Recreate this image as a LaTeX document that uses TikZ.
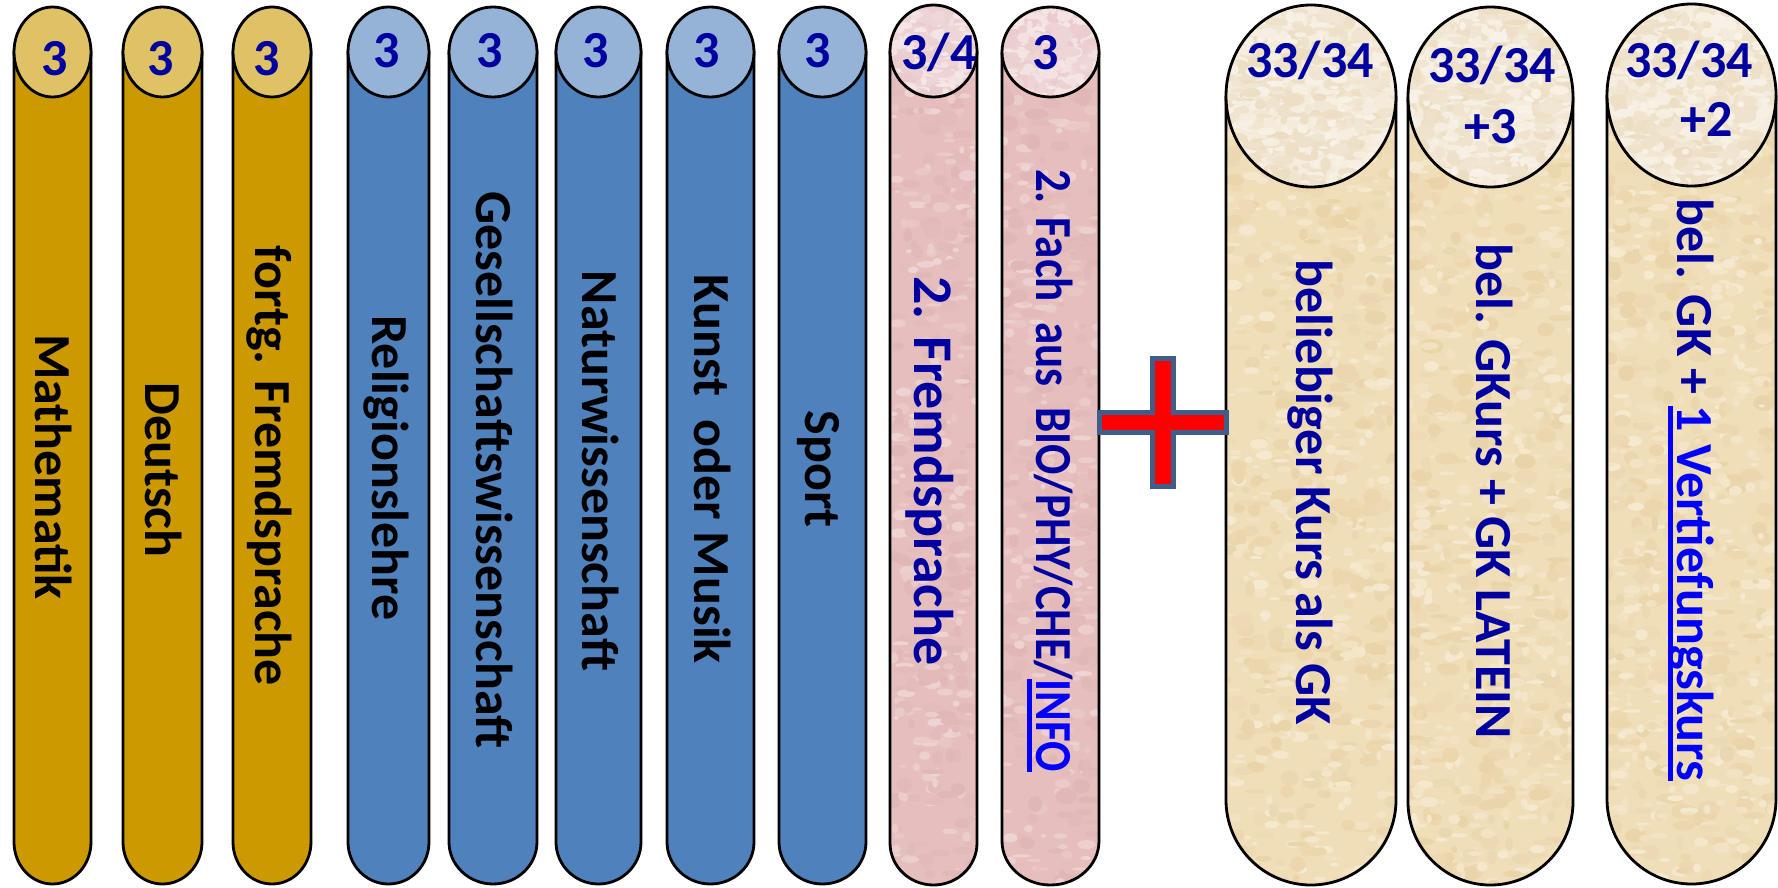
\documentclass[tikz,border=0pt]{standalone}
\usepackage{fontspec}
\setmainfont{Carlito}
\definecolor{goldbody}{HTML}{CC9900}
\definecolor{goldtop}{HTML}{E0C266}
\definecolor{bluebody}{HTML}{4F81BD}
\definecolor{bluetop}{HTML}{95B3D7}
\definecolor{pinkbody}{HTML}{E6BEBE}
\definecolor{pinktop}{HTML}{F2DCDC}
\definecolor{pinkspot}{HTML}{D4A2A2}
\definecolor{beigebody}{HTML}{F0DEB9}
\definecolor{beigetop}{HTML}{F4EBDB}
\definecolor{beigespot}{HTML}{D9BC85}
\definecolor{dblue}{HTML}{0000A0}
\definecolor{linkblue}{HTML}{0000FF}
\definecolor{plusborder}{HTML}{3F5F8A}
\newcommand\ulx[1]{\setbox0\hbox{#1}\rlap{\rule[-4.5pt]{\wd0}{2.5pt}}\box0}
% plain column: xl xr yc ryt ybot ryb body top
\newcommand\colshape[8]{%
  \pgfmathsetmacro\cxc{(#1+#2)/2}%
  \pgfmathsetmacro\crx{(#2-#1)/2}%
  \pgfmathsetmacro\cyy{#5-#6}%
  \draw[outl, fill=#7] (#1,-#3) -- (#1,-\cyy) arc[start angle=180,end angle=360,x radius=\crx,y radius=#6] -- (#2,-#3) -- cycle;
  \draw[outl, fill=#8] (\cxc,-#3) ellipse[x radius=\crx, y radius=#4];
}
% fine mottled texture (colour mixing only)
\newcommand\spots[6]{% xmin xmax ymin ymax spotcolour basecolour
  \foreach \k in {1,...,\spotn} {%
    \pgfmathsetmacro\bx{#1+rnd*(#2-#1)}%
    \pgfmathsetmacro\by{#3+rnd*(#4-#3)}%
    \pgfmathsetmacro\bra{3+rnd*9}%
    \pgfmathsetmacro\brb{2+rnd*6}%
    \pgfmathtruncatemacro\bpc{8+rnd*22}%
    \fill[#5!\bpc!#6] (\bx,-\by) ellipse[x radius=\bra, y radius=\brb];
    \pgfmathsetmacro\wx{#1+rnd*(#2-#1)}%
    \pgfmathsetmacro\wy{#3+rnd*(#4-#3)}%
    \pgfmathtruncatemacro\wpc{10+rnd*25}%
    \fill[white!\wpc!#6] (\wx,-\wy) ellipse[x radius=\bra*0.8, y radius=\brb*0.7];
  }%
}
\newcommand\colshapeT[9]{%
  \pgfmathsetmacro\cxc{(#1+#2)/2}%
  \pgfmathsetmacro\crx{(#2-#1)/2}%
  \pgfmathsetmacro\cyy{#5-#6}%
  \fill[#7] (#1,-#3) -- (#1,-\cyy) arc[start angle=180,end angle=360,x radius=\crx,y radius=#6] -- (#2,-#3) -- cycle;
  \begin{scope}
    \clip (#1,-#3) -- (#1,-\cyy) arc[start angle=180,end angle=360,x radius=\crx,y radius=#6] -- (#2,-#3) -- cycle;
    \spots{#1}{#2}{#3}{#5}{#9}{#7}
  \end{scope}
  \draw[outl] (#1,-#3) -- (#1,-\cyy) arc[start angle=180,end angle=360,x radius=\crx,y radius=#6] -- (#2,-#3);
  \fill[#8] (\cxc,-#3) ellipse[x radius=\crx, y radius=#4];
  \begin{scope}
    \clip (\cxc,-#3) ellipse[x radius=\crx, y radius=#4];
    \pgfmathsetmacro\ytop{#3-#4}\pgfmathsetmacro\ybt{#3+#4}%
    \spots{#1}{#2}{\ytop}{\ybt}{#9}{#8}
  \end{scope}
  \draw[outl] (\cxc,-#3) ellipse[x radius=\crx, y radius=#4];
}
\begin{document}
\begin{tikzpicture}[x=0.5pt,y=0.5pt,
  outl/.style={draw=black, line width=1.4pt},
  lbl/.style={font=\fontsize{26}{31}\selectfont\bfseries, inner sep=0pt, anchor=base, rotate=-90},
  num/.style={font=\fontsize{26}{31}\selectfont\bfseries, inner sep=0pt, anchor=base, text=dblue}]
\useasboundingbox (0,0) rectangle (1778,-888);
\pgfmathsetseed{4711}
% small columns
\colshape{14}{91}{52}{45}{884}{42}{goldbody}{goldtop}
\colshape{123}{202}{52}{45}{884}{42}{goldbody}{goldtop}
\colshape{233}{311}{52}{45}{884}{42}{goldbody}{goldtop}
\colshape{348}{429}{52}{45}{884}{42}{bluebody}{bluetop}
\colshape{449}{537}{52}{45}{884}{42}{bluebody}{bluetop}
\colshape{556}{641}{52}{45}{884}{42}{bluebody}{bluetop}
\colshape{667}{754}{52}{45}{884}{42}{bluebody}{bluetop}
\colshape{779}{866}{52}{45}{884}{42}{bluebody}{bluetop}
\def\spotn{200}
\colshapeT{890}{977}{51}{46}{885}{42}{pinkbody}{pinktop}{pinkspot}
\colshapeT{1002}{1099}{52}{45}{885}{44}{pinkbody}{pinktop}{pinkspot}
% large columns
\def\spotn{400}
\colshapeT{1226}{1396}{96}{91}{885}{85}{beigebody}{beigetop}{beigespot}
\colshapeT{1408}{1573}{97}{90}{885}{83}{beigebody}{beigetop}{beigespot}
\colshapeT{1607}{1776}{95}{91}{884}{85}{beigebody}{beigetop}{beigespot}
% plus
\draw[line width=2.5pt, draw=plusborder, fill=red, miter limit=10]
  (1152.5,-358.5) -- (1173.5,-358.5) -- (1173.5,-412.5) -- (1226.5,-412.5) -- (1226.5,-432.5)
  -- (1173.5,-432.5) -- (1173.5,-486.5) -- (1152.5,-486.5) -- (1152.5,-432.5) -- (1099.5,-432.5)
  -- (1099.5,-412.5) -- (1152.5,-412.5) -- cycle;
% numbers
\node[num] (n1) at (54.5,-76) {3};
\node[num] (n2) at (161,-76) {3};
\node[num] (n3) at (267,-76) {3};
\node[num] (n4) at (386.5,-68) {3};
\node[num] (n5) at (490,-68) {3};
\node[num] (n6) at (596,-68) {3};
\node[num] (n7) at (707,-68) {3};
\node[num] (n8) at (818,-68) {3};
\node[num] (n9) at (939,-70) {3/4};
\node[num] (n10) at (1046,-70) {3};
\node[num] (n11) at (1310,-78) {33/34};
\node[num] (n12a) at (1492,-83) {33/34};
\node[num] (n12b) at (1491,-143) {+3};
\node[num] (n13a) at (1689,-78) {33/34};
\node[num] (n13b) at (1707,-137) {+2};
% labels
\node[lbl] (t1) at (35,-467) {Mathematik};
\node[lbl] (t2) at (145,-470) {Deutsch};
\node[lbl] (t3) at (255,-466) {fortg. Fremdsprache};
\node[lbl] (t4) at (372,-468) {Religionslehre};
\node[lbl] (t5) at (476,-470) {Gesellschaftswissenschaft};
\node[lbl] (t6) at (582,-471) {Naturwissenschaft};
\node[lbl] (t7) at (694,-469) {Kunst\ \ oder Musik};
\node[lbl] (t8) at (805,-469) {Sport};
\node[lbl, text=dblue, font=\fontsize{28}{33}\selectfont\bfseries] (t9) at (914,-471) {2. Fremdsprache};
\node[lbl, text=dblue] (t10) at (1036,-470.5) {\scalebox{0.865}[1]{2. Fach\ \ aus\ \ BIO/PHY/CHE/\textcolor{linkblue}{\ulx{INFO}}}};
\node[lbl, text=dblue] (t11) at (1296,-492) {beliebiger Kurs als GK};
\node[lbl, text=dblue] (t12) at (1476,-491) {bel. GKurs + GK LATEIN};
\node[lbl, text=dblue] (t13) at (1677,-490) {bel. GK + \textcolor{linkblue}{\ulx{1 Vertiefungskurs}}};
\end{tikzpicture}
\end{document}
